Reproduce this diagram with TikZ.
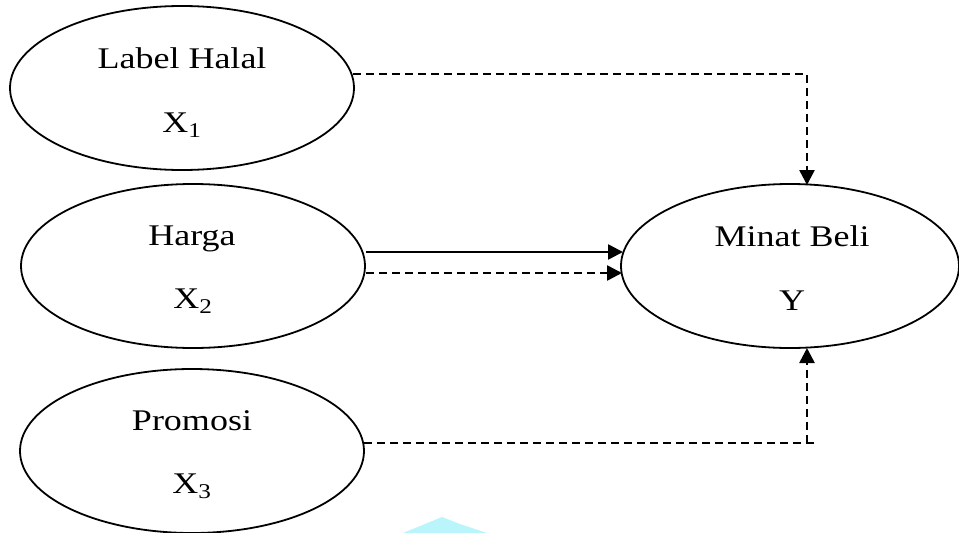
\documentclass[tikz,border=0pt]{standalone}
\usepackage{fontspec}
\setmainfont{Liberation Serif}
\usetikzlibrary{shapes.geometric,arrows.meta}
\definecolor{wmark}{RGB}{185,245,250}
\tikzset{
  oval/.style={ellipse, draw, line width=1.8pt, minimum width=344pt, minimum height=164pt, inner sep=0pt},
  txt/.style={anchor=base, inner sep=0pt, font=\fontsize{30}{32}\selectfont},
  conn/.style={line width=2.6pt, -{Triangle[length=15pt,width=15pt]}},
  dconn/.style={conn, dash pattern=on 8pt off 5pt},
}
\newcommand{\wtxt}[1]{\scalebox{1.2}[1]{#1}}
\begin{document}
\begin{tikzpicture}[x=1pt,y=-1pt]
\useasboundingbox (0,0) rectangle (959,533);
% ellipses
\node[oval] (lh) at (182,88) {};
\node[oval] (hg) at (193,266) {};
\node[oval] (pr) at (192,451) {};
\node[oval, minimum width=338pt] (mb) at (790,266) {};
% texts
\node[txt] (lh1) at (182,68) {\wtxt{Label Halal}};
\node[txt] (lh2) at (182,132) {\wtxt{X\textsubscript{1}}};
\node[txt] (hg1) at (192,245) {\wtxt{Harga}};
\node[txt] (hg2) at (193,308) {\wtxt{X\textsubscript{2}}};
\node[txt] (pr1) at (192,430) {\wtxt{Promosi}};
\node[txt] (pr2) at (192,493) {\wtxt{X\textsubscript{3}}};
\node[txt] (mb1) at (792,246) {\wtxt{Minat Beli}};
\node[txt] (mb2) at (792,310) {\wtxt{Y}};
% connector end points
\coordinate (lhR) at (353,74);
\coordinate (mbT) at (807,185);
\coordinate (hgS) at (366,252);
\coordinate (mbS) at (623,252);
\coordinate (hgD) at (366,273);
\coordinate (mbD) at (622,273);
\coordinate (prR) at (364,443);
\coordinate (prC) at (817,443);
\coordinate (pcn) at (807,443);
\coordinate (mbB) at (807,348);
% connectors
\draw[dconn] (lhR) -| (mbT);
\draw[conn] (hgS) -- (mbS);
\draw[dconn] (hgD) -- (mbD);
\draw[line width=2.6pt, dash pattern=on 8pt off 5pt] (prR) -- (prC);
\draw[dconn] (pcn) -- (mbB);
% watermark fragment
\fill[wmark] (403,533) -- (425,524) -- (442,517) -- (460,524) -- (487,533) -- cycle;
\end{tikzpicture}
\end{document}
